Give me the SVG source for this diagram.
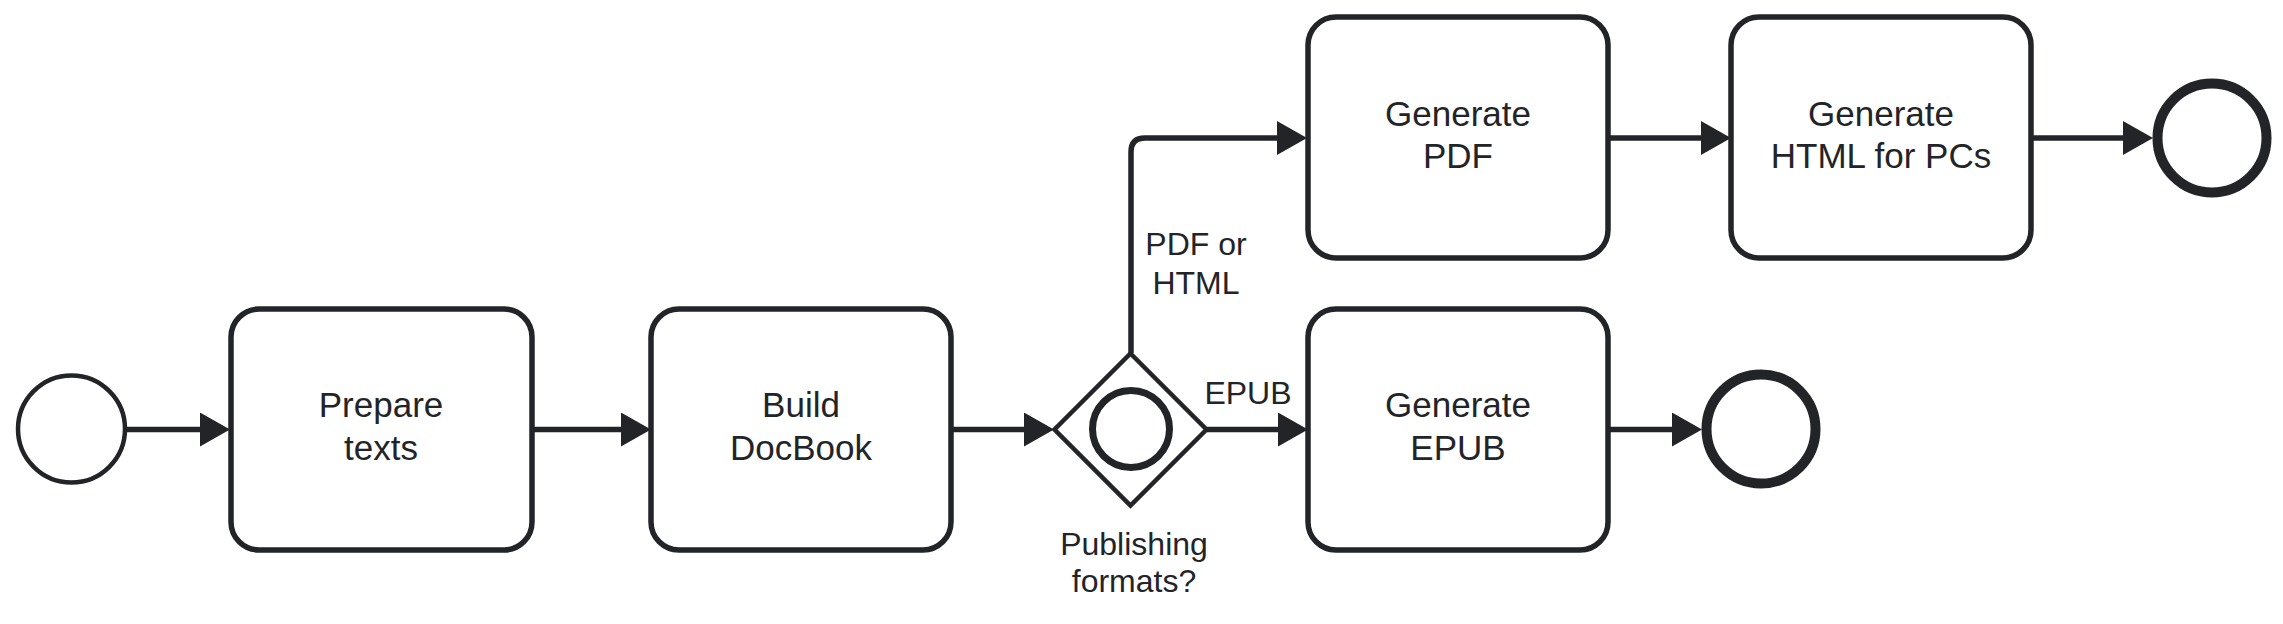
<svg xmlns="http://www.w3.org/2000/svg" width="2283" height="624" viewBox="0 0 2283 624">
<style>
.task{fill:#fff;stroke:#232428;stroke-width:5.5}
.ev{fill:#fff;stroke:#232428;stroke-width:4.5}
.end{fill:#fff;stroke:#232428;stroke-width:10}
.gw{fill:#fff;stroke:#232428;stroke-width:4.5}
.gwc{fill:none;stroke:#232428;stroke-width:7}
.flow{fill:none;stroke:#232428;stroke-width:5.5;marker-end:url(#arr)}
text{font-family:"Liberation Sans",Arial,sans-serif;fill:#232428;text-anchor:middle}
.t{font-size:35px}
.l{font-size:32px}
</style>
<defs>
<marker id="arr" markerUnits="userSpaceOnUse" markerWidth="30" markerHeight="34" refX="10" refY="17" orient="auto">
<path d="M0,0 L30,17 L0,34 Z" fill="#232428"/>
</marker>
</defs>
<rect width="2283" height="624" fill="#fff"/>
<g id="connectors">
<path class="flow" d="M125,429.5 H210"/>
<path class="flow" d="M533,429.5 H631"/>
<path class="flow" d="M951,429.5 H1034"/>
<path class="flow" d="M1207,429.5 H1288"/>
<path class="flow" d="M1131,353 V152 Q1131,138 1145,138 H1287"/>
<path class="flow" d="M1609,138 H1711"/>
<path class="flow" d="M2032,138 H2133"/>
<path class="flow" d="M1609,429.5 H1682"/>
<text class="l" x="1196" y="255">PDF or</text>
<text class="l" x="1196" y="294">HTML</text>
<text class="l" x="1248" y="404">EPUB</text>
</g>
<g id="start">
<circle class="ev" cx="71.5" cy="429" r="53.5"/>
</g>
<g id="prepare">
<rect class="task" x="231" y="309" width="301" height="241" rx="28"/>
<text class="t" x="381" y="417">Prepare</text>
<text class="t" x="381" y="460">texts</text>
</g>
<g id="build">
<rect class="task" x="651" y="309" width="300" height="241" rx="28"/>
<text class="t" x="801" y="417">Build</text>
<text class="t" x="801" y="460">DocBook</text>
</g>
<g id="gateway">
<path class="gw" d="M1130.5,353.5 L1206.5,429.5 L1130.5,505.5 L1054.5,429.5 Z"/>
<circle class="gwc" cx="1131" cy="429" r="38.5"/>
<text class="l" x="1134" y="555">Publishing</text>
<text class="l" x="1134" y="592">formats?</text>
</g>
<g id="epub">
<rect class="task" x="1308" y="309" width="300" height="241" rx="28"/>
<text class="t" x="1458" y="417">Generate</text>
<text class="t" x="1458" y="460">EPUB</text>
</g>
<g id="end-epub">
<circle class="end" cx="1761" cy="429" r="54.5"/>
</g>
<g id="pdf">
<rect class="task" x="1308" y="17" width="300" height="241" rx="28"/>
<text class="t" x="1458" y="126">Generate</text>
<text class="t" x="1458" y="168">PDF</text>
</g>
<g id="html">
<rect class="task" x="1731" y="17" width="300" height="241" rx="28"/>
<text class="t" x="1881" y="126">Generate</text>
<text class="t" x="1881" y="168">HTML for PCs</text>
</g>
<g id="end-html">
<circle class="end" cx="2212" cy="138" r="54.5"/>
</g>
</svg>
